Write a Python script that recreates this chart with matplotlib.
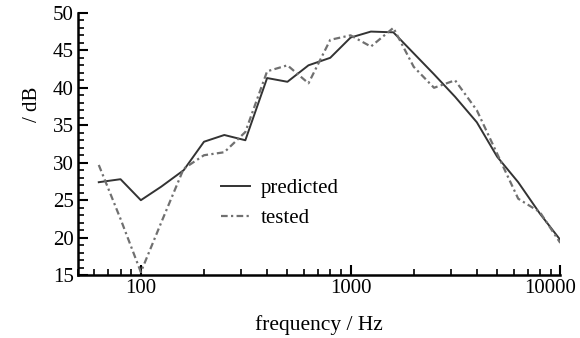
import numpy as np
import matplotlib.pyplot as plt
import matplotlib.transforms as mtransforms
from matplotlib.ticker import FixedLocator, NullFormatter, MultipleLocator

# data
freq = [63, 80, 100, 125, 160, 200, 250, 315, 400, 500, 630, 800, 1000, 1250, 1600,
        2000, 2500, 3150, 4000, 5000, 6300, 8000, 10000]
predicted = [27.4, 27.8, 25.0, 26.8, 29.0, 32.8, 33.7, 33.0, 41.3, 40.8, 43.0, 44.0, 46.7,
             47.5, 47.4, 44.6, 41.8, 38.8, 35.4, 30.8, 27.4, 23.2, 19.7]
tested = [29.7, 22.5, 15.4, 22.0, 29.2, 31.0, 31.4, 34.1, 42.2, 43.0, 40.6, 46.4, 47.0,
          45.5, 48.0, 42.8, 40.0, 41.0, 37.0, 31.2, 25.2, 23.4, 19.3]
xticks = [100, 1000, 10000]

plt.rcParams['font.family'] = ['Liberation Serif', 'DejaVu Serif']

fig = plt.figure(figsize=(5.8, 3.38), dpi=100)
ax = fig.add_axes([0.134, 0.186, 0.832, 0.776])

ax.plot(freq, predicted, color='#333333', linewidth=1.4, label='predicted')
ax.plot(freq, tested, color='#707070', linewidth=1.6, linestyle=(0, (3, 1.5, 1, 1.5)),
        label='tested')

ax.set_xscale('log')
ax.set_xlim(50, 10000)
ax.set_ylim(15, 50)
ax.xaxis.set_major_locator(FixedLocator(xticks))
ax.set_xticklabels([str(t) for t in xticks])
minor = [f for d in (10, 100, 1000) for f in np.arange(2, 10) * d if 50 <= f <= 10000]
ax.xaxis.set_minor_locator(FixedLocator(minor))
ax.xaxis.set_minor_formatter(NullFormatter())
ax.yaxis.set_major_locator(MultipleLocator(5))
ax.yaxis.set_minor_locator(MultipleLocator(1))

for s in ['top', 'right']:
    ax.spines[s].set_visible(False)
for s in ['left', 'bottom']:
    ax.spines[s].set_linewidth(1.8)

ax.tick_params(which='major', direction='in', length=7, width=1.5, labelsize=15, pad=3)
ax.tick_params(which='minor', direction='in', length=4, width=1.2)

# last x label sits a little left of its tick, as in the original
last = ax.get_xticklabels()[-1]
last.set_transform(last.get_transform() + mtransforms.ScaledTranslation(-10 / 100, 0, fig.dpi_scale_trans))

ax.set_xlabel('frequency / Hz', fontsize=15.5, labelpad=12)
ax.set_ylabel('/ dB', fontsize=15)
ax.yaxis.set_label_coords(-0.075, 0.65)

ax.legend(loc='upper left', bbox_to_anchor=(0.258, 0.44), frameon=False, fontsize=15,
          handlelength=1.4, handletextpad=0.5, labelspacing=0.5)

plt.savefig('out.png', dpi=100)
